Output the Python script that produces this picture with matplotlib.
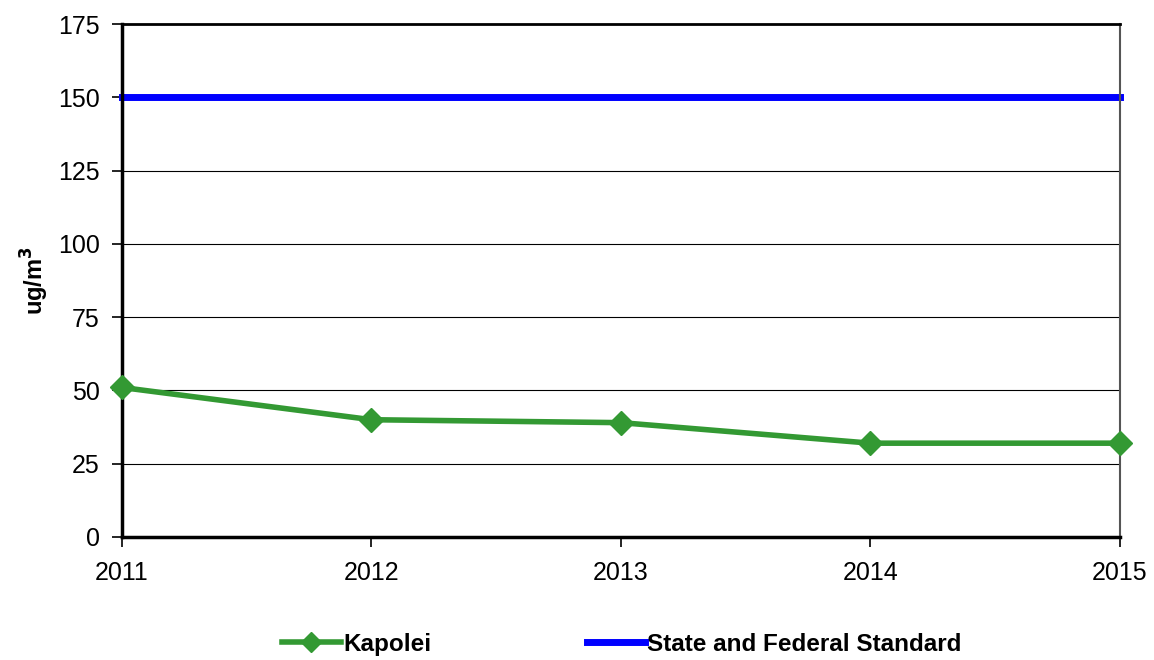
import matplotlib
matplotlib.use("Agg")
import matplotlib.pyplot as plt

years = [2011, 2012, 2013, 2014, 2015]
kapolei = [51, 40, 39, 32, 32]
standard = [150, 150, 150, 150, 150]

plt.rcParams['font.family'] = ['Liberation Sans', 'DejaVu Sans']

fig = plt.figure(figsize=(11.54, 6.6), dpi=100)
ax = fig.add_axes([0.1057, 0.1864, 0.8648, 0.7772])

for y in range(25, 175, 25):
    ax.axhline(y, color='black', lw=0.8, zorder=1)

ax.plot(years, kapolei, color='#339933', lw=4, marker='D', ms=12,
        label='Kapolei', zorder=3, clip_on=False)
ax.plot(years, standard, color='#0000ff', lw=5, label='State and Federal Standard',
        zorder=2, clip_on=False)

ax.set_xlim(2011, 2015)
ax.set_ylim(0, 175)
ax.set_yticks(range(0, 176, 25))
ax.set_xticks(years)
ax.tick_params(axis='both', labelsize=18, length=7, width=1.2, direction='out')
ax.tick_params(axis='y', pad=9)
ax.tick_params(axis='x', pad=10)

ax.spines['left'].set_linewidth(2.5)
ax.spines['bottom'].set_linewidth(2.5)
ax.spines['top'].set_linewidth(2)
ax.spines['right'].set_linewidth(1.5)
ax.spines['right'].set_color('#555555')

ax.set_ylabel('ug/m$^\\mathbf{3}$', fontsize=17, fontweight='bold', labelpad=5)

leg = fig.legend(loc='center', bbox_to_anchor=(0.539, 0.024), ncol=2, frameon=False,
                 prop={'size': 17.5, 'weight': 'bold'}, handlelength=2.4,
                 columnspacing=6.4, handletextpad=0.1, markerscale=0.85)

fig.savefig('out.png', dpi=100)
